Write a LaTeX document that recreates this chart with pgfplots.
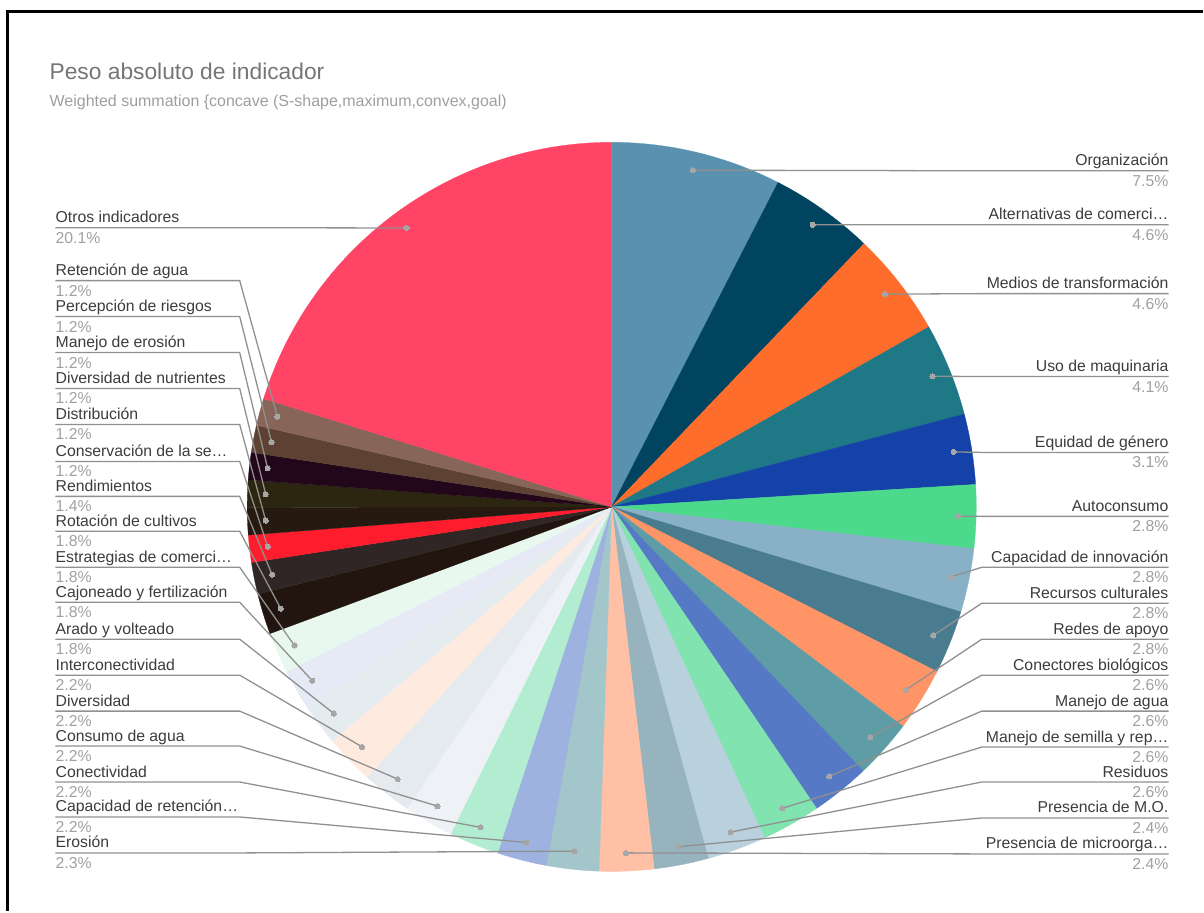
\documentclass[border=0pt]{standalone}
\usepackage{pgfplots}
\pgfplotsset{compat=1.18}
\usepackage{pgfplotstable}
\usepackage{fontspec}
\setmainfont{Liberation Sans}

\definecolor{c0}{HTML}{5A91AF}
\definecolor{c1}{HTML}{00445F}
\definecolor{c2}{HTML}{FF6D2D}
\definecolor{c3}{HTML}{1F7885}
\definecolor{c4}{HTML}{1442A8}
\definecolor{c5}{HTML}{4CD98C}
\definecolor{c6}{HTML}{88B0C6}
\definecolor{c7}{HTML}{4A7C90}
\definecolor{c8}{HTML}{FF9566}
\definecolor{c9}{HTML}{5E9DA5}
\definecolor{c10}{HTML}{5579C5}
\definecolor{c11}{HTML}{80E3B0}
\definecolor{c12}{HTML}{B9D0DD}
\definecolor{c13}{HTML}{97B3BE}
\definecolor{c14}{HTML}{FFC0A5}
\definecolor{c15}{HTML}{A2C6C9}
\definecolor{c16}{HTML}{9EB2DF}
\definecolor{c17}{HTML}{B3EDD1}
\definecolor{c18}{HTML}{EEF2F7}
\definecolor{c19}{HTML}{E4EAEE}
\definecolor{c20}{HTML}{FFEAE0}
\definecolor{c21}{HTML}{E5ECEF}
\definecolor{c22}{HTML}{E6EAF6}
\definecolor{c23}{HTML}{E8F8EF}
\definecolor{c24}{HTML}{221510}
\definecolor{c25}{HTML}{302626}
\definecolor{c26}{HTML}{FF1D2D}
\definecolor{c27}{HTML}{26190F}
\definecolor{c28}{HTML}{2C2510}
\definecolor{c29}{HTML}{22071A}
\definecolor{c30}{HTML}{5D4233}
\definecolor{c31}{HTML}{876659}
\definecolor{c32}{HTML}{FF4466}
\definecolor{titlegray}{HTML}{757575}
\definecolor{subgray}{HTML}{9E9E9E}
\definecolor{namegray}{HTML}{3C3C3C}
\definecolor{pctgray}{HTML}{A0A0A0}
\definecolor{leadgray}{HTML}{909090}
\definecolor{dotgray}{HTML}{A6A6A6}

\pgfplotstableread[col sep=comma]{
name,val,ly
Organización,7.5,171
Alternativas de comerci…,4.6,225
Medios de transformación,4.6,294
Uso de maquinaria,4.1,377
Equidad de género,3.1,453
Autoconsumo,2.8,517
Capacidad de innovación,2.8,568
Recursos culturales,2.8,604
Redes de apoyo,2.8,640
Conectores biológicos,2.6,676
Manejo de agua,2.6,712
Manejo de semilla y rep…,2.6,748
Residuos,2.6,783
Presencia de M.O.,2.4,819
Presencia de microorga…,2.4,855
Erosión,2.3,854
Capacidad de retención…,2.2,818
Conectividad,2.2,783
Consumo de agua,2.2,747
Diversidad,2.2,712
Interconectividad,2.2,676
Arado y volteado,1.8,640
Cajoneado y fertilización,1.8,603
Estrategias de comerci…,1.8,568
Rotación de cultivos,1.8,532
Rendimientos,1.4,497
Conservación de la se…,1.2,462
Distribución,1.2,425
Diversidad de nutrientes,1.2,389
Manejo de erosión,1.2,353
Percepción de riesgos,1.2,317
Retención de agua,1.2,281
Otros indicadores,20.1,228
}\pietable

\pgfplotstablecreatecol[create col/expr accum={\pgfmathaccuma + \thisrow{val}}{0}]{cum}\pietable
\pgfplotstablegetelem{32}{cum}\of\pietable
\let\pietotal\pgfplotsretval
\pgfplotstablecreatecol[create col/expr={612.5+346.75*sin((\thisrow{cum}-0.5*\thisrow{val})/\pietotal*360)}]{dx}\pietable
\pgfplotstablecreatecol[create col/expr={-507.5+346.75*cos((\thisrow{cum}-0.5*\thisrow{val})/\pietotal*360)}]{dy}\pietable

\tikzset{
  leader/.style={draw=leadgray, line width=1.3pt},
  namelab/.style={font=\fontsize{15.8}{18}\selectfont, text=namegray, inner sep=0pt},
  pctlab/.style={font=\fontsize{15.8}{18}\selectfont, text=pctgray, inner sep=0pt},
}

\begin{document}
\begin{tikzpicture}
\begin{axis}[x=1pt, y=1pt, xmin=0, xmax=1204, ymin=-912, ymax=0,
  hide axis, clip=false]
\path (axis cs:0,0) -- (axis cs:1204,-912);
% slices
\pgfplotsforeachungrouped \i in {0,...,32}{%
  \pgfplotstablegetelem{\i}{val}\of\pietable \let\myval\pgfplotsretval
  \pgfplotstablegetelem{\i}{cum}\of\pietable \let\mycum\pgfplotsretval
  \pgfmathsetmacro\aS{90-(\mycum-\myval)/\pietotal*360}%
  \pgfmathsetmacro\aE{90-\mycum/\pietotal*360}%
  \pgfmathsetmacro\xS{612.5+365*cos(\aS)}%
  \pgfmathsetmacro\yS{-507.5+365*sin(\aS)}%
  \edef\cmd{\noexpand\fill[c\i, draw=c\i, line width=0.3pt] (axis cs:612.5,-507.5) -- (axis cs:\xS,\yS) arc[start angle=\aS, end angle=\aE, radius=365pt] -- cycle;}%
  \cmd
}
% leader lines and labels
\pgfplotsforeachungrouped \i in {0,...,32}{%
  \pgfplotstablegetelem{\i}{name}\of\pietable \let\myname\pgfplotsretval
  \pgfplotstablegetelem{\i}{val}\of\pietable \let\myval\pgfplotsretval
  \pgfplotstablegetelem{\i}{ly}\of\pietable \let\myly\pgfplotsretval
  \pgfplotstablegetelem{\i}{dx}\of\pietable \let\mydx\pgfplotsretval
  \pgfplotstablegetelem{\i}{dy}\of\pietable \let\mydy\pgfplotsretval
  \pgfmathsetmacro\yl{-\myly}%
  \pgfmathsetmacro\yn{-\myly+5}%
  \pgfmathsetmacro\yp{-\myly-15.5}%
  \ifnum\i<15
    \edef\cmd{\noexpand\draw[leader] (axis cs:\mydx,\mydy) -- (axis cs:983,\yl) -- (axis cs:1170,\yl);
      \noexpand\node[namelab, anchor=base east] at (axis cs:1170,\yn) {\myname};
      \noexpand\node[pctlab, anchor=base east] at (axis cs:1170,\yp) {\myval\noexpand\%};}%
  \else
    \edef\cmd{\noexpand\draw[leader] (axis cs:\mydx,\mydy) -- (axis cs:240,\yl) -- (axis cs:55.5,\yl);
      \noexpand\node[namelab, anchor=base west] at (axis cs:55.5,\yn) {\myname};
      \noexpand\node[pctlab, anchor=base west] at (axis cs:55.5,\yp) {\myval\noexpand\%};}%
  \fi
  \cmd
}
\addplot[only marks, color=dotgray, mark=*, mark size=2.6pt, mark options={fill=dotgray, draw=dotgray, line width=0pt}] table[x=dx, y=dy] {\pietable};
% title and subtitle
\node[anchor=base west, inner sep=0pt, font=\fontsize{22.8}{26}\selectfont, text=titlegray] at (axis cs:49.5,-79.3) {Peso absoluto de indicador};
\node[anchor=base west, inner sep=0pt, font=\fontsize{16}{19}\selectfont, text=subgray] at (axis cs:49.5,-106.7) {Weighted summation \{concave (S-shape,maximum,convex,goal)};
% frame
\draw[black, line width=3pt] (axis cs:7.5,-912) -- (axis cs:7.5,-11.5) -- (axis cs:1204,-11.5);
\end{axis}
\end{tikzpicture}
\end{document}
